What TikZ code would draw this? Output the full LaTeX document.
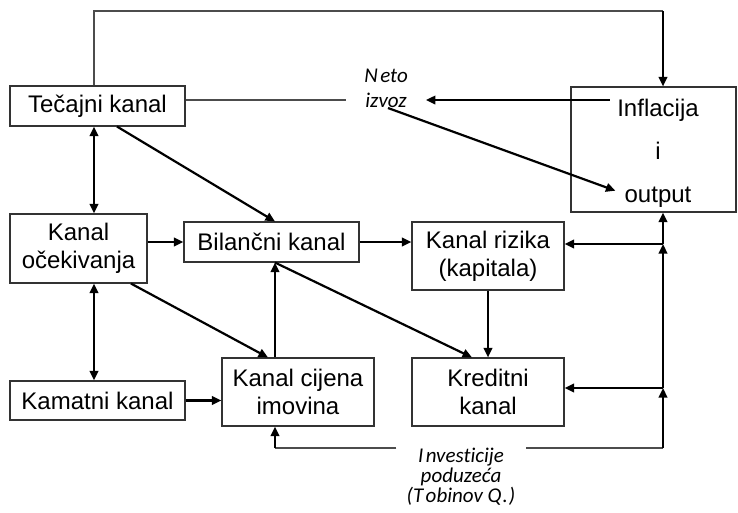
\documentclass[tikz,border=0pt]{standalone}
\usepackage{fontspec}
\setmainfont{Liberation Sans}
\newfontfamily\itfont[Ligatures=CommonOff]{Carlito}
\usetikzlibrary{arrows.meta}
\begin{document}
\begin{tikzpicture}[x=1pt,y=-1pt,
  box/.style={draw=black!80, line width=1.1pt, fill=white, inner sep=0pt, align=center, font=\fontsize{24}{28}\selectfont},
  arr/.style={line width=2.2pt, -{Triangle[length=9.5pt,width=8.5pt]}},
  darr/.style={line width=2.2pt, {Triangle[length=9.5pt,width=8.5pt]}-{Triangle[length=9.5pt,width=8.5pt]}},
  thinl/.style={draw=black!70, line width=1.4pt},
  lbl/.style={align=center, inner ysep=0pt},
  big/.style={font=\fontsize{24}{28}\selectfont, inner ysep=0pt}]
\useasboundingbox (0,0) rectangle (738,512);

% boxes
\node[box, minimum width=175pt, minimum height=40pt] (tec) at (97.5,106) {Tečajni kanal};
\node[box, minimum width=137pt, minimum height=69pt] (oce) at (78.5,248.5) {Kanal\\očekivanja};
\node[box, minimum width=175pt, minimum height=40pt] (bil) at (271.5,242) {Bilančni kanal};
\node[box, minimum width=175pt, minimum height=39pt] (kam) at (97.5,400.5) {Kamatni kanal};
\node[box, minimum width=152pt, minimum height=68pt] (cij) at (298,392) {Kanal cijena\\imovina};
\node[box, minimum width=152pt, minimum height=68pt] (riz) at (488,256) {Kanal rizika\\(kapitala)};
\node[box, minimum width=152pt, minimum height=68pt] (kre) at (488,392) {Kreditni\\kanal};
\node[box, minimum width=165pt, minimum height=125pt] (inf) at (653.5,149.5) {};
\node[big, anchor=base, inner xsep=7.5pt] (inf1) at (658,116) {Inflacija};
\node[big, anchor=base] (inf2) at (658,159) {i};
\node[big, anchor=base, inner xsep=9pt] (inf3) at (658,202) {output};

% labels
\node[lbl, font=\itfont\itshape\fontsize{21}{25}\selectfont, inner xsep=18pt, anchor=north] (neto) at (386,69) {N\kern2.5pt eto\\izvoz};
\node[lbl, font=\itfont\itshape\fontsize{21}{20}\selectfont, inner xsep=10pt, anchor=north] (inv) at (461,448) {I\kern2.5pt nvesticije\\poduzeća\\(T\kern2.5pt obinov Q\kern1pt.\kern1pt)};

% helper coordinates
\coordinate (xL) at (94,0);
\coordinate (xM) at (275,0);
\coordinate (xR) at (663,0);
\coordinate (r1) at (0,100);
\coordinate (top) at (0,11);
\coordinate (bc) at (663,448);
\coordinate (j1) at (663,388);
\coordinate (j2) at (663,244);

% top loop
\draw[thinl] (xL |- tec.north) -- (xL |- top) -- (xR |- top);
\draw[arr] (xR |- top) -- (xR |- inf.north);

% neto izvoz
\draw[thinl] (tec.east |- r1) -- (neto.west |- r1);
\draw[arr] (inf1.west |- r1) -- (neto.east |- r1);
\draw[arr] ([xshift=2pt]neto.south) -- ([yshift=6pt]inf3.west);

% left column
\draw[darr] (xL |- tec.south) -- (xL |- oce.north);
\draw[darr] (xL |- oce.south) -- (xL |- kam.north);
\draw[arr] ([xshift=19.5pt]tec.south) -- ([xshift=3.5pt]bil.north);
\draw[arr] (oce.east |- bil) -- (bil.west);
\draw[arr] ([xshift=52.5pt]oce.south) -- ([xshift=-30pt]cij.north);
\draw[arr] (kam.east) -- (kam.east -| cij.west);
\draw[arr] (xM |- cij.north) -- (xM |- bil.south);
\draw[arr] (xM |- bil.south) -- ([xshift=-16pt]kre.north);
\draw[arr] (bil.east) -- (bil.east -| riz.west);
\draw[arr] (riz.south) -- (kre.north);

% bottom feedback
\draw[thinl] (bc) -- (bc -| inv.east);
\draw[thinl] (bc -| inv.west) -- (xM |- bc);
\draw[arr] (xM |- bc) -- (xM |- cij.south);

% right vertical
\draw[arr] (bc) -- (j1);
\draw[arr] (j1) -- (j2);
\draw[arr] (j2) -- (xR |- inf.south);
\draw[arr] (j1) -- (j1 -| kre.east);
\draw[arr] (j2) -- (j2 -| riz.east);
\end{tikzpicture}
\end{document}
